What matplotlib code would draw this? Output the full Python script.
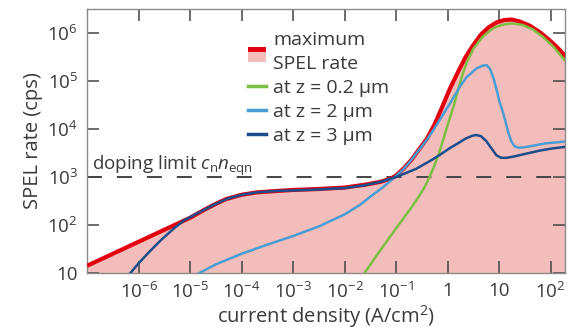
import numpy as np
import matplotlib
matplotlib.use("Agg")
import matplotlib.pyplot as plt
from matplotlib.lines import Line2D
from matplotlib.patches import Patch, Rectangle

plt.rcParams['font.family'] = ['Open Sans', 'DejaVu Sans']
plt.rcParams['mathtext.fontset'] = 'custom'
plt.rcParams['mathtext.rm'] = 'Open Sans'
plt.rcParams['mathtext.it'] = 'Open Sans:italic'
plt.rcParams['mathtext.sf'] = 'Open Sans'

# data (log10 of current density in A/cm^2, log10 of rate in cps)
max_x = [-7.0, -6.5, -6.0, -5.5, -5.0, -4.7, -4.5, -4.3, -4.0, -3.7, -3.3, -3.0, -2.5, -2.0,
         -1.6, -1.3, -1.1, -1.0, -0.85, -0.7, -0.55, -0.4, -0.25, -0.1, 0.05, 0.2, 0.35,
         0.5, 0.65, 0.8, 0.95, 1.1, 1.25, 1.4, 1.6, 1.8, 2.0, 2.15, 2.3]
max_y = [1.15, 1.40, 1.65, 1.90, 2.15, 2.33, 2.44, 2.54, 2.63, 2.68, 2.71, 2.73, 2.75, 2.78,
         2.84, 2.90, 2.97, 3.03, 3.18, 3.36, 3.58, 3.80, 4.10, 4.47, 4.85, 5.18, 5.50,
         5.75, 5.97, 6.12, 6.22, 6.27, 6.28, 6.24, 6.15, 6.01, 5.83, 5.68, 5.50]

z02_x = [-1.63, -1.4, -1.2, -1.0, -0.8, -0.6, -0.45, -0.35, -0.25, -0.15, -0.05, 0.05, 0.12,
         0.2, 0.28, 0.37, 0.5, 0.68, 0.85, 0.95, 1.1, 1.26, 1.45, 1.65, 1.85, 2.05, 2.3]
z02_y = [0.97, 1.33, 1.63, 1.93, 2.22, 2.52, 2.78, 3.0, 3.25, 3.55, 3.9, 4.25, 4.48,
         4.8, 5.1, 5.38, 5.67, 5.92, 6.07, 6.13, 6.18, 6.2, 6.17, 6.08, 5.92, 5.72, 5.40]

z2_x = [-4.85, -4.5, -4.0, -3.5, -3.0, -2.5, -2.0, -1.7, -1.5, -1.3, -1.13, -1.0, -0.85,
        -0.7, -0.55, -0.4, -0.25, -0.1, 0.0, 0.15, 0.25, 0.37, 0.56, 0.68, 0.76, 0.83,
        0.9, 0.96, 1.01, 1.06, 1.12, 1.18, 1.24, 1.3, 1.38, 1.5, 1.7, 1.9, 2.1, 2.3]
z2_y = [0.98, 1.18, 1.40, 1.59, 1.77, 1.97, 2.22, 2.42, 2.59, 2.75, 2.9, 3.02, 3.17,
        3.36, 3.57, 3.78, 4.02, 4.28, 4.45, 4.72, 4.9, 5.08, 5.26, 5.32, 5.33, 5.24,
        5.03, 4.78, 4.56, 4.40, 4.18, 3.92, 3.74, 3.64, 3.61, 3.62, 3.66, 3.70, 3.72, 3.74]

z3_x = [-6.18, -6.0, -5.8, -5.56, -5.3, -5.11, -4.9, -4.7, -4.5, -4.27, -4.0, -3.7, -3.3,
        -3.0, -2.5, -2.0, -1.6, -1.3, -1.0, -0.61, -0.3, -0.15, 0.04, 0.2, 0.35, 0.48,
        0.56, 0.65, 0.75, 0.85, 0.95, 1.04, 1.15, 1.3, 1.5, 1.79, 2.0, 2.3]
z3_y = [0.97, 1.2, 1.43, 1.69, 1.94, 2.1, 2.22, 2.33, 2.44, 2.55, 2.63, 2.68, 2.71,
        2.72, 2.74, 2.77, 2.83, 2.9, 3.0, 3.17, 3.36, 3.46, 3.6, 3.7, 3.8, 3.86,
        3.875, 3.85, 3.75, 3.6, 3.45, 3.40, 3.40, 3.43, 3.48, 3.55, 3.59, 3.63]

doping_limit = 1e3

x_ticks = [1e-6, 1e-5, 1e-4, 1e-3, 1e-2, 1e-1, 1, 10, 1e2]
x_ticklabels = ['$10^{-6}$', '$10^{-5}$', '$10^{-4}$', '$10^{-3}$', '$10^{-2}$',
                '$10^{-1}$', '1', '10', '$10^{2}$']
y_ticks = [10, 1e2, 1e3, 1e4, 1e5, 1e6]
y_ticklabels = ['10', '$10^{2}$', '$10^{3}$', '$10^{4}$', '$10^{5}$', '$10^{6}$']

RED = '#e2000f'
PINK = '#f3bdbb'
GREEN = '#7dbf42'
LIGHTBLUE = '#4a9dd4'
DARKBLUE = '#1d4e8c'
TEXT = '#3a3a3a'


class MaxHandler:
    def legend_artist(self, legend, orig_handle, fontsize, handlebox):
        x0, y0 = handlebox.xdescent, handlebox.ydescent
        w, h = handlebox.width, handlebox.height
        tr = handlebox.get_transform()
        low = Rectangle((x0, y0 - 0.25 * h), w, 0.75 * h, facecolor=PINK, edgecolor='none', transform=tr)
        top = Rectangle((x0, y0 + 0.5 * h), w, 0.4 * h, facecolor=RED, edgecolor='none', transform=tr)
        handlebox.add_artist(low)
        handlebox.add_artist(top)
        return low


def tenpow(v):
    return [10 ** a for a in v]


fig = plt.figure(figsize=(5.74, 3.36), dpi=100)
ax = fig.add_axes([87 / 574, 1 - 273 / 336, 478 / 574, 264 / 336])
ax.set_xscale('log')
ax.set_yscale('log')

mx, my = tenpow(max_x), tenpow(max_y)
ax.fill_between(mx, 1, my, color=PINK, lw=0, zorder=1)
ax.axhline(doping_limit, color='#444444', lw=1.4, dashes=(7.7, 7.7), zorder=2)
ax.plot(mx, my, color=RED, lw=3.0, zorder=3, solid_capstyle='butt')
ax.plot(tenpow(z02_x), tenpow(z02_y), color=GREEN, lw=1.8, zorder=4)
ax.plot(tenpow(z2_x), tenpow(z2_y), color=LIGHTBLUE, lw=1.8, zorder=5)
ax.plot(tenpow(z3_x), tenpow(z3_y), color=DARKBLUE, lw=1.8, zorder=6)

ax.set_xlim(1e-7, 10 ** 2.28)
ax.set_ylim(10, 10 ** 6.5)

ax.set_xticks(x_ticks)
ax.set_xticklabels(x_ticklabels)
ax.set_yticks(y_ticks)
ax.set_yticklabels(y_ticklabels)
ax.minorticks_off()
ax.tick_params(which='major', direction='in', length=8.5, width=1.1, color='#444444',
               top=True, right=True, labelsize=13.5, labelcolor=TEXT, pad=6.5)
for s in ax.spines.values():
    s.set_color('#8a8a8a')
    s.set_linewidth(1.0)

ax.text(0.01, 1.4e3, 'doping limit $c_\\mathrm{n}n_\\mathrm{eqn}$', transform=ax.get_yaxis_transform(),
        fontsize=13.5, color=TEXT, va='baseline', ha='left')

ax.set_xlabel('current density (A/cm$^2$)', fontsize=14.5, color=TEXT, labelpad=1)
ax.set_ylabel('SPEL rate (cps)', fontsize=14.5, color=TEXT, labelpad=3)

handles = [Patch(), Line2D([], [], color=GREEN, lw=2.5),
           Line2D([], [], color=LIGHTBLUE, lw=2.5), Line2D([], [], color=DARKBLUE, lw=2.5)]
labels = ['maximum\nSPEL rate', 'at z = 0.2 μm', 'at z = 2 μm', 'at z = 3 μm']
leg = ax.legend(handles, labels, handler_map={Patch: MaxHandler()}, loc='upper left',
                bbox_to_anchor=(248 / 574, 1 - 31 / 336), bbox_transform=fig.transFigure,
                frameon=False, fontsize=14, handlelength=0.95, handletextpad=0.35,
                labelspacing=0.32, borderpad=0, borderaxespad=0)
for t in leg.get_texts():
    t.set_color(TEXT)
leg.get_texts()[0].set_linespacing(1.4)

fig.savefig('out.png', dpi=100)
